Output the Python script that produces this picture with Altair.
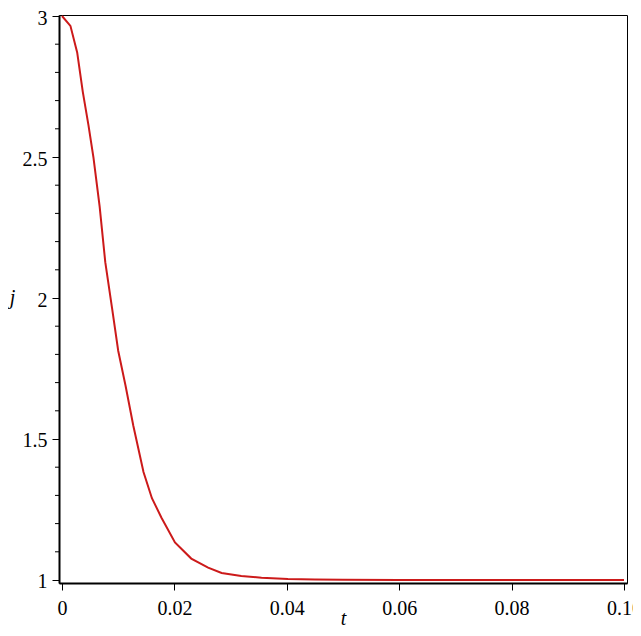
import altair as alt
import pandas as pd

# values
t_vals = [0, 0.0015, 0.0027, 0.0037, 0.0047, 0.0056, 0.0067, 0.0077, 0.0089, 0.0100,
          0.0113, 0.0127, 0.0145, 0.0160, 0.0177, 0.0201, 0.0230, 0.0260, 0.0284,
          0.0319, 0.0355, 0.0402, 0.045, 0.05, 0.06, 0.07, 0.08, 0.09, 0.1]
j_vals = [3.0, 2.965, 2.871, 2.731, 2.614, 2.498, 2.324, 2.127, 1.965, 1.813,
          1.69, 1.546, 1.383, 1.29, 1.221, 1.133, 1.076, 1.044, 1.025,
          1.014, 1.008, 1.0035, 1.0015, 1.0007, 1.0002, 1.0, 1.0, 1.0, 1.0]
x_ticks = [0, 0.02, 0.04, 0.06, 0.08, 0.10]
y_major = [1, 1.5, 2, 2.5, 3]
y_minor = [1.1, 1.2, 1.3, 1.4, 1.6, 1.7, 1.8, 1.9, 2.1, 2.2, 2.3, 2.4,
           2.6, 2.7, 2.8, 2.9]

curve = pd.DataFrame({"t": t_vals, "j": j_vals})
minor = pd.DataFrame({"j": y_minor})

FONT = "'Liberation Serif', 'Times New Roman', Times, 'DejaVu Serif', serif"
W, H = 568, 568

x_scale = alt.Scale(domain=[-0.000534, 0.100534], nice=False, zero=False)
y_scale = alt.Scale(domain=[0.98936, 3.00355], nice=False, zero=False)

x_axis = alt.Axis(
    values=x_ticks,
    labelExpr="datum.value == 0 ? '0' : format(datum.value, '.2f')",
    title="t",
    tickSize=7, tickColor="black", tickWidth=1,
    domainColor="black", domainWidth=2,
    labelFont=FONT, labelFontSize=20, labelColor="black", labelPadding=8,
    labelFlush=False, labelOverlap=False, labelBound=False,
    grid=False,
    titleFont=FONT, titleFontSize=20, titleFontStyle="italic",
    titleFontWeight="normal", titleColor="black",
    titleX=W / 2, titleY=41, titleAlign="center", titleBaseline="alphabetic",
)
y_axis = alt.Axis(
    values=y_major,
    labelExpr="format(datum.value, '~g')",
    title="j",
    tickSize=7, tickColor="black", tickWidth=1,
    domainColor="black", domainWidth=2,
    labelFont=FONT, labelFontSize=20, labelColor="black", labelPadding=5,
    labelOffset=2,
    labelFlush=False, labelOverlap=False, labelBound=False,
    grid=False,
    titleFont=FONT, titleFontSize=20, titleFontStyle="italic",
    titleFontWeight="normal", titleColor="black",
    titleAngle=0, titleX=-47, titleY=288, titleAlign="center",
    titleBaseline="alphabetic",
)

line = alt.Chart(curve).mark_line(color="#cc1a1a", strokeWidth=2).encode(
    x=alt.X("t:Q", scale=x_scale, axis=x_axis),
    y=alt.Y("j:Q", scale=y_scale, axis=y_axis),
)

minor_ticks = alt.Chart(minor).mark_rule(color="black", strokeWidth=1).encode(
    y=alt.Y("j:Q", scale=y_scale, axis=y_axis),
    x=alt.value(-4),
    x2=alt.value(0),
)

chart = alt.layer(minor_ticks, line).properties(
    width=W,
    height=H,
    padding={"left": 51, "top": 7, "right": 6, "bottom": 45},
    autosize=alt.AutoSizeParams(type="none"),
    background="white",
).configure_view(stroke="black", strokeWidth=1)

chart.save("out.html", embed_options={"renderer": "svg", "actions": False})
